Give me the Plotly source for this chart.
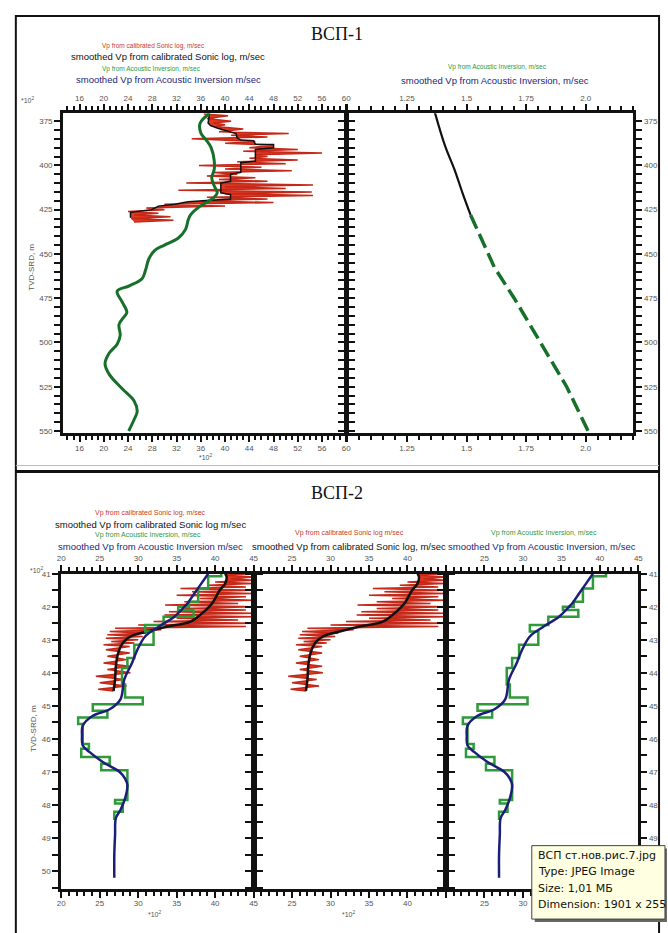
import plotly.graph_objects as go

W, H = 668, 933

# ================= ВСП-1 data (Vp in 10^2 m/s, depth TVD-SRD in m) =================
v1_ai_depth = [370.5, 376, 381.7, 385.7, 390, 397, 402.5, 407, 411.5, 415.5, 418, 421, 424, 428,
               431, 436, 441, 445, 448, 453, 459, 464, 468, 471, 477, 483, 487, 490, 496, 501,
               506, 512, 518, 526, 533, 539, 543.5, 550]
v1_ai_vp = [37.5, 35.9, 36.0, 36.9, 37.7, 38.2, 38.2, 37.8, 38.2, 38.7, 38.2, 36.9, 35.5, 34.3,
            33.9, 33.5, 32.3, 30.0, 28.4, 27.4, 26.9, 26.3, 24.2, 22.2, 23.0, 23.8, 23.0, 22.5, 22.7, 22.2,
            20.9, 20.2, 20.9, 23.0, 25.0, 25.5, 25.0, 24.1]

v1_sm_depth = [371.5, 376, 377.5, 379, 382, 384.5, 385.7, 386, 388, 388.2, 390, 391, 397.5, 398.5,
               404, 405, 409, 410, 415.5, 416.5, 419, 419.5, 420, 420.5, 422, 423, 425, 425.5,
               426.5, 429.5]
v1_sm_vp = [37.4, 37.2, 37.6, 38.8, 41.8, 42.0, 42.6, 44.7, 45.0, 48.0, 48.0, 45.0, 45.0, 42.6,
            42.6, 40.9, 40.9, 39.3, 39.3, 40.9, 40.9, 38.2, 36.6, 33.9, 31.7, 29.0, 27.9, 26.3,
            24.4, 24.4]

v1_raw_depth = [371, 372, 373.5, 375, 376, 377, 378, 379.5, 381, 382, 383, 384, 385, 386.5, 387.5,
                388.5, 390, 391, 392, 393, 394, 395, 396, 397, 398, 399, 400, 401, 402, 403, 404,
                405, 406, 407, 408, 409, 410, 411, 412, 413, 414, 415, 416, 417, 418, 419, 420,
                421, 422, 423, 424, 425, 426, 427, 428, 429, 430, 431, 432]
v1_raw_vp = [36.5, 40.5, 37, 41, 38, 40, 38.5, 43, 39, 50.5, 41, 47, 34.5, 45, 40, 48, 44, 52, 43,
             56, 45, 47, 44, 52, 42, 50, 35.7, 46, 40, 51, 38, 42, 37, 45, 39, 47, 33.6, 54.5, 40,
             50, 32.3, 54.3, 40, 54.5, 37, 47, 36, 48, 30, 40, 27, 30, 24, 29, 25, 31, 24.5, 31.5, 25]

# right panel of ВСП-1 (time vs depth)
v1_t_sonic_depth = [370, 389, 402.5, 415.5, 428]
v1_t_sonic = [1.367, 1.41, 1.45, 1.483, 1.517]
v1_t_ai_depth = [428, 457.6, 475, 500, 525, 550]
v1_t_ai = [1.517, 1.617, 1.70, 1.81, 1.92, 2.01]

# ================= ВСП-2 data (Vp in 10^2 m/s, depth in 10^2 m) =================
v2_raw_depth = [41.0, 41.05, 41.1, 41.15, 41.2, 41.25, 41.3, 41.35, 41.4, 41.45, 41.5, 41.55, 41.6,
                41.65, 41.7, 41.75, 41.8, 41.85, 41.9, 41.95, 42.0, 42.05, 42.1, 42.15, 42.2, 42.25,
                42.3, 42.35, 42.4, 42.45, 42.5, 42.55, 42.6, 42.65, 42.7, 42.75, 42.8, 42.85, 42.9,
                42.95, 43.0, 43.05, 43.1, 43.15, 43.2, 43.3, 43.4, 43.5, 43.6, 43.7, 43.8, 43.9,
                44.0, 44.1, 44.2, 44.3, 44.4, 44.5, 44.55]
v2_raw_vp = [44.5, 41.5, 45, 42, 45, 40, 45, 39, 44, 35.5, 45, 37, 45, 35, 44, 38, 45, 36, 43, 33.5,
             45, 36, 44, 34, 45, 33.4, 45, 35, 43, 32, 45, 30, 44, 27, 33, 26.3, 31, 26, 30.6, 25.8,
             30, 26.5, 29.5, 25.5, 28.9, 25.8, 28.9, 26, 28.5, 25.5, 28.9, 26, 29, 24.5, 28.2, 25,
             28.5, 24.8, 26.8]

v2_sm_depth = [41.0, 41.1, 41.3, 41.5, 41.9, 42.2, 42.45, 42.6, 42.75, 42.9, 43.1, 43.4, 43.8, 44.2, 44.55]
v2_sm_vp = [41.3, 41.5, 41.3, 40.6, 39.6, 38.3, 36.8, 33.8, 31.2, 29.0, 28.0, 27.4, 27.1, 27.0, 26.8]

# blocky acoustic inversion (value applies from this depth down to the next one)
v2_ai_top = [41.0, 41.08, 41.45, 41.85, 42.0, 42.1, 42.3, 42.55, 42.75, 43.15, 43.55, 43.85, 44.35,
             44.75, 44.95, 45.15, 45.35, 45.55, 46.15, 46.3, 46.55, 46.75, 46.95, 47.85, 47.95,
             48.2, 48.45]
v2_ai_vp = [40.8, 39.1, 37.8, 36.6, 35.2, 37.2, 33.3, 30.9, 32.0, 29.5, 28.6, 27.9, 28.3,
            30.6, 24.1, 26.0, 22.2, 22.8, 23.6, 22.6, 26.3, 25.2, 28.6, 27.0, 28.0,
            26.9, 26.9]

v2_ais_depth = [41.0, 41.3, 41.6, 41.87, 42.0, 42.3, 42.6, 42.9, 43.3, 43.7, 44.2, 44.8, 45.1, 45.3,
                45.6, 45.9, 46.2, 46.4, 46.7, 47.0, 47.2, 47.4, 47.8, 48.15, 48.4, 48.9, 49.5, 50.2]
v2_ais_vp = [39.1, 38.2, 37.3, 36.5, 36.0, 34.7, 32.7, 30.9, 29.9, 29.2, 28.2, 27.7, 26.3, 24.1,
             22.8, 22.7, 22.8, 23.7, 25.4, 27.6, 28.3, 28.6, 28.3, 27.7, 27.1, 27.0, 26.9, 26.9]

# tick labels
tl_xticks = list(range(16, 61, 4))
tl_yticks = list(range(375, 551, 25))
tr_xticks = [1.0, 1.25, 1.5, 1.75, 2.0]
tr_xtext = ['', '1.25', '1.5', '1.75', '2.0']
b_xticks = [20, 25, 30, 35, 40, 45]
b_yticks = list(range(41, 51))

RED_FILL = '#e23a22'
RED_LINE = '#c42818'
DKGREEN = '#17702a'
GREEN = '#2e9a3a'
NAVY = '#1b1f7a'
BLACK = '#111111'


def fx(x):
    return x / W


def fy(y):
    return 1 - y / H


fig = go.Figure()


def helper(x, y, xa, ya):
    fig.add_trace(go.Scatter(x=x, y=y, mode='lines', line=dict(width=0, color=BLACK),
                             hoverinfo='skip', xaxis=xa, yaxis=ya))


def line(x, y, xa, ya, color, width, dash=None, shape='linear', fill=None, fillcolor=None):
    fig.add_trace(go.Scatter(x=x, y=y, mode='lines',
                             line=dict(color=color, width=width, dash=dash, shape=shape),
                             fill=fill, fillcolor=fillcolor, xaxis=xa, yaxis=ya))


# ---- ВСП-1 left
helper(v1_sm_vp, v1_sm_depth, 'x', 'y')
line(v1_raw_vp, v1_raw_depth, 'x', 'y', RED_LINE, 1.5, fill='tonextx', fillcolor=RED_FILL)
line(v1_sm_vp, v1_sm_depth, 'x', 'y', BLACK, 1.5)
line(v1_ai_vp, v1_ai_depth, 'x', 'y', DKGREEN, 3, shape='spline')
# ---- ВСП-1 right
line(v1_t_sonic, v1_t_sonic_depth, 'x2', 'y2', BLACK, 2.2, shape='spline')
line(v1_t_ai, v1_t_ai_depth, 'x2', 'y2', DKGREEN, 3.5, dash='15px,6px')
# ---- ВСП-2 panel A
helper(v2_sm_vp, v2_sm_depth, 'x3', 'y3')
line(v2_raw_vp, v2_raw_depth, 'x3', 'y3', RED_LINE, 1.5, fill='tonextx', fillcolor=RED_FILL)
line(v2_sm_vp, v2_sm_depth, 'x3', 'y3', BLACK, 2.5, shape='spline')
line(v2_ai_vp, v2_ai_top, 'x3', 'y3', GREEN, 2.5, shape='vh')
line(v2_ais_vp, v2_ais_depth, 'x3', 'y3', NAVY, 2.5, shape='spline')
# ---- ВСП-2 panel B
helper(v2_sm_vp, v2_sm_depth, 'x4', 'y4')
line(v2_raw_vp, v2_raw_depth, 'x4', 'y4', RED_LINE, 1.5, fill='tonextx', fillcolor=RED_FILL)
line(v2_sm_vp, v2_sm_depth, 'x4', 'y4', BLACK, 2.5, shape='spline')
# ---- ВСП-2 panel C
line(v2_ai_vp, v2_ai_top, 'x5', 'y5', GREEN, 2.5, shape='vh')
line(v2_ais_vp, v2_ais_depth, 'x5', 'y5', NAVY, 2.5, shape='spline')
# invisible carriers so the bottom label axes get drawn
helper(v1_ai_vp, v1_ai_depth, 'x6', 'y')
helper(v1_t_ai, v1_t_ai_depth, 'x7', 'y2')
helper(v2_ais_vp, v2_ais_depth, 'x8', 'y3')
helper(v2_sm_vp, v2_sm_depth, 'x9', 'y4')
helper(v2_ais_vp, v2_ais_depth, 'x10', 'y5')

TICKFONT = dict(size=8, color='#555', family='Liberation Sans')


def xax(dom, rng, anchor, vals, text, minor_dtick, minor0):
    return dict(domain=dom, range=rng, anchor=anchor, side='top', showline=True, linewidth=3,
                linecolor=BLACK, mirror='allticks', ticks='outside', ticklen=6, tickwidth=2,
                tickcolor=BLACK, tickmode='array', tickvals=vals, ticktext=text,
                showgrid=False, zeroline=False, tickfont=TICKFONT, fixedrange=True,
                minor=dict(tick0=minor0, dtick=minor_dtick, ticks='outside', ticklen=4,
                           tickwidth=1.5, tickcolor=BLACK, showgrid=False))


def xov(over, anchor, rng, vals, text, gap):
    return dict(overlaying=over, anchor=anchor, side='bottom', range=rng, showline=False,
                ticks='outside', ticklen=gap, tickcolor='rgba(0,0,0,0)', tickmode='array',
                tickvals=vals, ticktext=text, showgrid=False,
                zeroline=False, tickfont=TICKFONT, fixedrange=True)


def yax(dom, rng, anchor, vals, side, labels, minor_dtick, minor0):
    return dict(domain=dom, range=rng, anchor=anchor, side=side, showline=True, linewidth=3,
                linecolor=BLACK, mirror='allticks', ticks='outside', ticklen=6, tickwidth=2,
                tickcolor=BLACK, tickmode='array', tickvals=vals, ticktext=[str(v) for v in vals],
                showticklabels=labels, showgrid=False, zeroline=False, tickfont=TICKFONT,
                fixedrange=True,
                minor=dict(tick0=minor0, dtick=minor_dtick, ticks='outside', ticklen=4,
                           tickwidth=1.5, tickcolor=BLACK, showgrid=False))


top_dom = [fy(432), fy(110)]
bot_dom = [fy(892), fy(574)]
tl_rng = [13.3, 60]
tr_rng = [1.0, 2.2]
b_rng = [20, 45]
t_yrng = [551, 370.5]
b_yrng = [50.55, 41.0]

tl_text = [str(v) for v in tl_xticks]
bA_text = [str(v) for v in b_xticks]
bB_text = ['', '25', '30', '35', '40', '']
bC_text = ['', '25', '30', '35', '40', '45']
bC_bottom_text = ['', '25', '30', '', '', '']   # the rest is hidden under the file tooltip

layout = dict(
    xaxis=xax([fx(60), fx(347)], tl_rng, 'y', tl_xticks, tl_text, 1, 0),
    yaxis=yax(top_dom, t_yrng, 'x', tl_yticks, 'left', True, 5, 0),
    xaxis2=xax([fx(348), fx(638)], tr_rng, 'y2', tr_xticks, tr_xtext, 0.05, 1.0),
    yaxis2=yax(top_dom, t_yrng, 'x2', tl_yticks, 'right', True, 5, 0),
    xaxis3=xax([fx(58), fx(253)], b_rng, 'y3', b_xticks, bA_text, 1, 0),
    yaxis3=yax(bot_dom, b_yrng, 'x3', b_yticks, 'left', True, 0.5, 0),
    xaxis4=xax([fx(253), fx(448)], b_rng, 'y4', b_xticks, bB_text, 1, 0),
    yaxis4=yax(bot_dom, b_yrng, 'x4', b_yticks, 'left', False, 0.5, 0),
    xaxis5=xax([fx(448), fx(643)], b_rng, 'y5', b_xticks, bC_text, 1, 0),
    yaxis5=yax(bot_dom, b_yrng, 'x5', b_yticks, 'right', True, 0.5, 0),
    xaxis6=xov('x', 'y', tl_rng, tl_xticks, tl_text, 8),
    xaxis7=xov('x2', 'y2', tr_rng, tr_xticks, tr_xtext, 8),
    xaxis8=xov('x3', 'y3', b_rng, b_xticks, bA_text, 6),
    xaxis9=xov('x4', 'y4', b_rng, b_xticks, bB_text, 6),
    xaxis10=xov('x5', 'y5', b_rng, b_xticks, bC_bottom_text, 6),
)
fig.update_layout(**layout)

ann = []


def txt(x, y, text, size, color=BLACK, family='Liberation Sans', xanchor='center', angle=0):
    ann.append(dict(x=fx(x), y=fy(y), xref='paper', yref='paper', text=text, showarrow=False,
                    font=dict(size=size, color=color, family=family), xanchor=xanchor,
                    yanchor='middle', textangle=angle))


SERIF = 'Liberation Serif'
# ВСП-1
txt(338, 30, 'ВСП-1', 18, family=SERIF)
txt(152, 42, 'Vp from calibrated Sonic log, m/sec', 6.5, '#c83a2a')
txt(166, 53, 'smoothed Vp from calibrated Sonic log, m/sec', 9.5)
txt(150, 65, 'Vp from Acoustic Inversion, m/sec', 6.5, GREEN)
txt(167, 76, 'smoothed Vp from Acoustic Inversion m/sec', 9.5, NAVY)
txt(500, 63, 'Vp from Acoustic Inversion, m/sec', 6.5, GREEN)
txt(498, 77, 'smoothed Vp from Acoustic Inversion, m/sec', 9.5, NAVY)
txt(24, 97, '*10<sup>2</sup>', 7, '#555')
txt(205, 456, '*10<sup>2</sup>', 7, '#555')
txt(27, 265, 'TVD-SRD, m', 8, '#555', angle=-90)
# ВСП-2
txt(338, 493, 'ВСП-2', 18, family=SERIF)
txt(148, 513, 'Vp from calibrated Sonic log, m/sec', 7, '#c83a2a')
txt(148, 524, 'smoothed Vp from calibrated Sonic log m/sec', 9.5)
txt(146, 535, 'Vp from Acoustic Inversion, m/sec', 7, GREEN)
txt(148, 547, 'smoothed Vp from Acoustic Inversion m/sec', 9.5, NAVY)
txt(350, 533, 'Vp from calibrated Sonic log m/sec', 7, '#c83a2a')
txt(350, 547, 'smoothed Vp from calibrated Sonic log, m/sec', 9.5)
txt(547, 533, 'Vp from Acoustic Inversion, m/sec', 7, GREEN)
txt(545, 547, 'smoothed Vp from Acoustic Inversion, m/sec', 9.5, NAVY)
txt(33, 570, '*10<sup>2</sup>', 7, '#555')
txt(153, 917, '*10<sup>2</sup>', 7, '#555')
txt(350, 917, '*10<sup>2</sup>', 7, '#555')
txt(30, 730, 'TVD-SRD, m', 8, '#555', angle=-90)
# tooltip
tip = ['ВСП ст.нов.рис.7.jpg', 'Type: JPEG Image', 'Size: 1,01 МБ', 'Dimension: 1901 x 255']
for i, t in enumerate(tip):
    txt(539, 858 + i * 16.5, t, 11, '#111', family='DejaVu Sans', xanchor='left')

shapes = [
    dict(type='rect', xref='paper', yref='paper', x0=fx(12), x1=fx(664), y0=fy(940), y1=fy(12),
         line=dict(color=BLACK, width=2), layer='above'),
    dict(type='line', xref='paper', yref='paper', x0=fx(12), x1=fx(664), y0=fy(465), y1=fy(465),
         line=dict(color='#bbbbbb', width=1), layer='above'),
    dict(type='line', xref='paper', yref='paper', x0=fx(12), x1=fx(664), y0=fy(471), y1=fy(471),
         line=dict(color=BLACK, width=3), layer='above'),
    dict(type='rect', xref='paper', yref='paper', x0=fx(538), x1=fx(672), y0=fy(925), y1=fy(851),
         line=dict(width=0), fillcolor='#666666', layer='above'),
    dict(type='rect', xref='paper', yref='paper', x0=fx(535), x1=fx(670), y0=fy(922), y1=fy(848),
         line=dict(color='#444444', width=1), fillcolor='#ffffe1', layer='above'),
]

fig.update_layout(annotations=ann, shapes=shapes, width=W, height=H, autosize=False,
                  margin=dict(l=0, r=0, t=0, b=0), paper_bgcolor='white', plot_bgcolor='white',
                  showlegend=False)
fig.write_html('out.html', config={'displayModeBar': False},
               post_script="document.body.style.margin='0';document.body.style.overflow='hidden';")
